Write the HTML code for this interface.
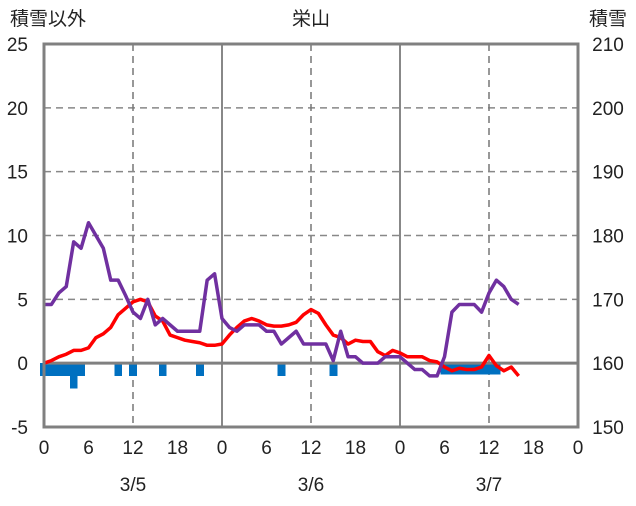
<!DOCTYPE html>
<html><head><meta charset="utf-8"><style>
body{margin:0;background:#fff;}
svg text{font-family:"Liberation Sans","Noto Sans CJK JP",sans-serif;fill:#222;}
</style></head><body>
<svg id="c" width="636" height="501"></svg>
<script>
const hours=[...Array(65).keys()];
const purpleValues=[4.6,4.6,5.5,6,9.5,9,11,10,9,6.5,6.5,5.3,4,3.5,5,3,3.5,3,2.5,2.5,2.5,2.5,6.5,7,3.5,2.8,2.5,3,3,3,2.5,2.5,1.5,2,2.5,1.5,1.5,1.5,1.5,0.2,2.5,0.5,0.5,0,0,0,0.5,0.5,0.5,0,-0.5,-0.5,-1,-1,0.5,4,4.6,4.6,4.6,4,5.5,6.5,6,5,4.6];
const redValues=[0,0.2,0.5,0.7,1,1,1.2,2,2.3,2.8,3.8,4.3,4.8,5,4.8,3.7,3.3,2.2,2,1.8,1.7,1.6,1.4,1.4,1.5,2.2,2.8,3.3,3.5,3.3,3,2.9,2.9,3,3.2,3.8,4.2,3.9,3,2.2,2,1.5,1.8,1.7,1.7,0.9,0.6,1,0.8,0.5,0.5,0.5,0.2,0.1,-0.3,-0.6,-0.4,-0.5,-0.5,-0.3,0.6,-0.2,-0.6,-0.3,-1];
const barHours=[0,1,2,3,4,5,10,12,16,21,32,39,54,55,56,57,58,59,60,61];
const barValues=[-1,-1,-1,-1,-2,-1,-1,-1,-1,-1,-1,-1,-0.9,-0.9,-0.9,-0.9,-0.9,-0.9,-0.9,-0.9];
const leftTicks=[25,20,15,10,5,0,-5];
const rightTicks=[210,200,190,180,170,160,150];
const xTickLabels=["0","6","12","18","0","6","12","18","0","6","12","18","0"];
const dateLabels=["3/5","3/6","3/7"];
const L=44,R=578,T=44,B=427;
const X=h=>L+(R-L)*h/72;
const Y=v=>T+(B-T)*(25-v)/30;
const NS="http://www.w3.org/2000/svg";
const svg=document.getElementById('c');
function mk(t,a,p){const e=document.createElementNS(NS,t);for(const k in a)e.setAttribute(k,a[k]);(p||svg).appendChild(e);return e;}
leftTicks.forEach(v=>{if(v>-5&&v<25&&v!==0){const g=mk('line',{x1:L,x2:R,y1:Y(v),y2:Y(v),stroke:'#888','stroke-width':1.5,'stroke-dasharray':'7,5'});

}});
[12,36,60].forEach(h=>{const g=mk('line',{x1:X(h),x2:X(h),y1:T,y2:B,stroke:'#777','stroke-width':1.5,'stroke-dasharray':'7,5'});

});
[24,48].forEach(h=>{const g=mk('line',{x1:X(h),x2:X(h),y1:T,y2:B,stroke:'#888','stroke-width':2});

});
barHours.forEach((h,i)=>{const b=mk('rect',{x:X(h)-3.9,y:Y(0),width:7.9,height:Y(barValues[i])-Y(0),fill:'#0070c0','shape-rendering':'crispEdges'});

});
const z=mk('line',{x1:L,x2:R,y1:Y(0),y2:Y(0),stroke:'#808080','stroke-width':3});


function line(vals,col,name){const p=mk('polyline',{points:vals.map((v,i)=>X(hours[i])+','+Y(v)).join(' '),fill:'none',stroke:col,'stroke-width':3.5,'stroke-linejoin':'round'});

}
line(redValues,'#ff0000','red-series');
line(purpleValues,'#7030a0','purple-series');
const f=mk('rect',{x:L,y:T,width:R-L,height:B-T,fill:'none',stroke:'#808080','stroke-width':3});


function txt(s,x,y,anchor,name){const t=mk('text',{x:x,y:y,'text-anchor':anchor,'font-size':19});t.textContent=s;

}
leftTicks.forEach(v=>txt(String(v),28,Y(v)+7,'end','left-tick-label'));
rightTicks.forEach((v,i)=>txt(String(v),608,Y(25-i*5)+7,'middle','right-tick-label'));
xTickLabels.forEach((s,i)=>txt(s,X(i*6),454,'middle','x-tick-label'));
dateLabels.forEach((s,i)=>txt(s,X(12+24*i),491,'middle','date-label'));
txt('積雪以外',48,25,'middle','left-axis-title');
txt('栄山',311,25,'middle','chart-title');
txt('積雪',608,25,'middle','right-axis-title');
</script>
</body></html>
